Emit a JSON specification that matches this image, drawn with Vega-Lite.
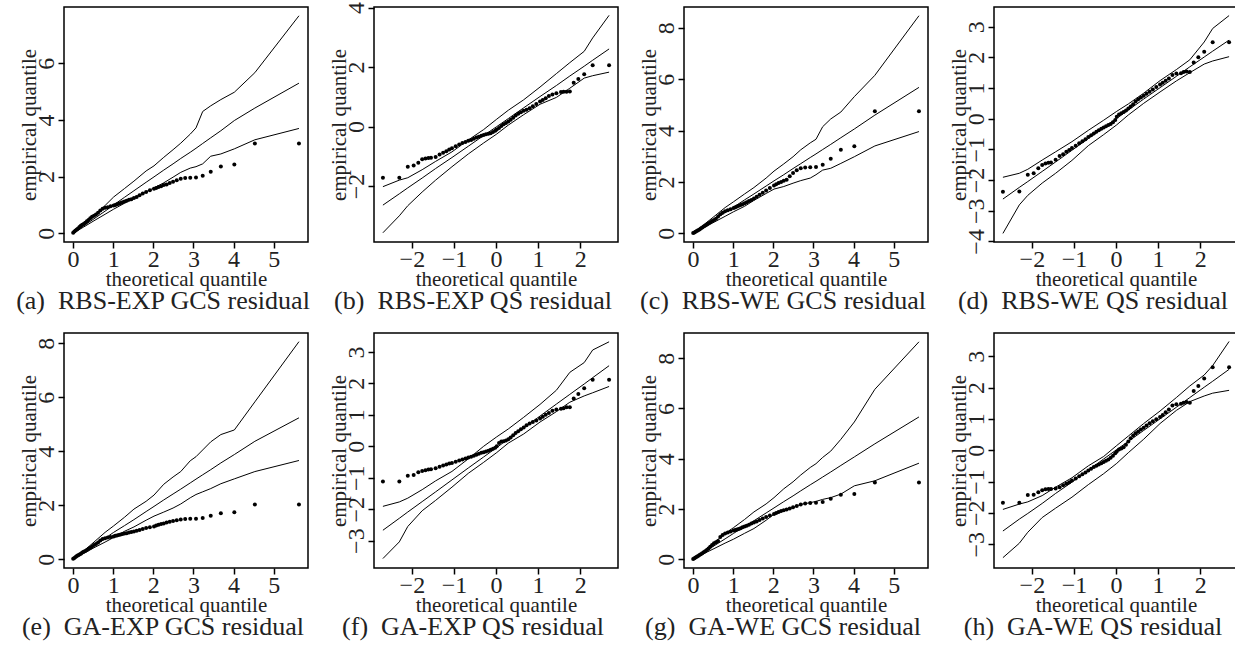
{
"$schema":"https://vega.github.io/schema/vega-lite/v6.json",
"background":"white",
"padding":{"left":14,"top":0,"right":0,"bottom":0},
"bounds":"flush",
"columns":4,
"spacing":{"row":91,"column":66},
"config":{
"font":"Liberation Serif",
"view":{"stroke":"black","strokeWidth":1.5},
"axis":{"labelFont":"Liberation Serif","titleFont":"Liberation Serif","labelFontSize":24,"titleFontSize":21,"labelColor":"#222","titleColor":"#222","titleFontWeight":"normal","domain":false,"grid":false,"ticks":true,"tickColor":"black","tickSize":6,"tickWidth":1.5,"labelOverlap":false,"labelFlush":false,"labelBound":false,"format":"d"},
"axisX":{"labelPadding":-1,"labelAngle":0,"titleX":122,"titleY":43,"titleBaseline":"alphabetic","titleAlign":"center"},
"axisY":{"labelAngle":-90,"labelAlign":"center","labelBaseline":"bottom","labelPadding":0,"titleX":-29,"titleY":117.5,"titleBaseline":"alphabetic","titleAlign":"center","titleAngle":-90},
"title":{"font":"Liberation Serif","fontSize":26,"fontWeight":"normal","color":"#222","orient":"bottom","offset":-1,"anchor":"middle","frame":"bounds"}
},
"datasets":{
"ep":[
{"x":0.0036,"a":0.02,"c":0.01,"e":0.02,"g":0.01},
{"x":0.033,"a":0.06,"c":0.03,"e":0.05,"g":0.04},
{"x":0.063,"a":0.10,"c":0.06,"e":0.09,"g":0.07},
{"x":0.094,"a":0.13,"c":0.09,"e":0.12,"g":0.10},
{"x":0.126,"a":0.17,"c":0.12,"e":0.15,"g":0.13},
{"x":0.160,"a":0.22,"c":0.15,"e":0.18,"g":0.17},
{"x":0.194,"a":0.26,"c":0.19,"e":0.21,"g":0.20},
{"x":0.229,"a":0.30,"c":0.22,"e":0.25,"g":0.24},
{"x":0.266,"a":0.33,"c":0.26,"e":0.28,"g":0.28},
{"x":0.305,"a":0.37,"c":0.30,"e":0.31,"g":0.32},
{"x":0.345,"a":0.42,"c":0.34,"e":0.35,"g":0.37},
{"x":0.386,"a":0.47,"c":0.39,"e":0.39,"g":0.43},
{"x":0.429,"a":0.53,"c":0.43,"e":0.43,"g":0.50},
{"x":0.474,"a":0.58,"c":0.48,"e":0.48,"g":0.57},
{"x":0.522,"a":0.62,"c":0.52,"e":0.53,"g":0.63},
{"x":0.571,"a":0.66,"c":0.57,"e":0.57,"g":0.67},
{"x":0.624,"a":0.72,"c":0.65,"e":0.62,"g":0.72},
{"x":0.679,"a":0.80,"c":0.74,"e":0.70,"g":0.88},
{"x":0.737,"a":0.86,"c":0.80,"e":0.75,"g":0.96},
{"x":0.799,"a":0.90,"c":0.86,"e":0.78,"g":1.02},
{"x":0.866,"a":0.92,"c":0.90,"e":0.81,"g":1.06},
{"x":0.936,"a":0.95,"c":0.94,"e":0.83,"g":1.10},
{"x":1.012,"a":0.98,"c":0.98,"e":0.85,"g":1.14},
{"x":1.053,"a":1.00,"c":1.01,"e":0.87,"g":1.16},
{"x":1.095,"a":1.02,"c":1.04,"e":0.88,"g":1.18},
{"x":1.139,"a":1.04,"c":1.07,"e":0.90,"g":1.20},
{"x":1.185,"a":1.07,"c":1.10,"e":0.92,"g":1.23},
{"x":1.233,"a":1.09,"c":1.13,"e":0.94,"g":1.27},
{"x":1.284,"a":1.12,"c":1.17,"e":0.96,"g":1.30},
{"x":1.337,"a":1.15,"c":1.21,"e":0.97,"g":1.33},
{"x":1.394,"a":1.18,"c":1.26,"e":0.99,"g":1.37},
{"x":1.453,"a":1.20,"c":1.30,"e":1.01,"g":1.42},
{"x":1.517,"a":1.24,"c":1.35,"e":1.03,"g":1.46},
{"x":1.585,"a":1.28,"c":1.42,"e":1.06,"g":1.50},
{"x":1.657,"a":1.34,"c":1.50,"e":1.09,"g":1.56},
{"x":1.736,"a":1.40,"c":1.58,"e":1.12,"g":1.62},
{"x":1.821,"a":1.46,"c":1.67,"e":1.16,"g":1.68},
{"x":1.914,"a":1.52,"c":1.76,"e":1.19,"g":1.74},
{"x":2.017,"a":1.57,"c":1.86,"e":1.22,"g":1.80},
{"x":2.072,"a":1.60,"c":1.91,"e":1.25,"g":1.84},
{"x":2.131,"a":1.63,"c":1.96,"e":1.28,"g":1.88},
{"x":2.194,"a":1.66,"c":2.00,"e":1.31,"g":1.92},
{"x":2.260,"a":1.70,"c":2.04,"e":1.33,"g":1.95},
{"x":2.332,"a":1.72,"c":2.08,"e":1.36,"g":1.98},
{"x":2.409,"a":1.77,"c":2.22,"e":1.39,"g":2.02},
{"x":2.492,"a":1.82,"c":2.35,"e":1.42,"g":2.07},
{"x":2.583,"a":1.87,"c":2.45,"e":1.45,"g":2.12},
{"x":2.683,"a":1.92,"c":2.53,"e":1.48,"g":2.18},
{"x":2.794,"a":1.95,"c":2.56,"e":1.49,"g":2.22},
{"x":2.920,"a":1.96,"c":2.57,"e":1.50,"g":2.24},
{"x":3.063,"a":1.97,"c":2.58,"e":1.50,"g":2.25},
{"x":3.230,"a":2.03,"c":2.67,"e":1.53,"g":2.28},
{"x":3.430,"a":2.17,"c":2.90,"e":1.61,"g":2.41},
{"x":3.682,"a":2.36,"c":3.25,"e":1.71,"g":2.56},
{"x":4.018,"a":2.43,"c":3.39,"e":1.74,"g":2.59},
{"x":4.529,"a":3.17,"c":4.75,"e":2.03,"g":3.05},
{"x":5.628,"a":3.17,"c":4.75,"e":2.03,"g":3.05}
],
"el":[
{"x":0.0036,"a_lo":0,"a_md":0,"a_hi":0.01,"c_lo":0,"c_md":0,"c_hi":0.01,"e_lo":0,"e_md":0,"e_hi":0.01,"g_lo":0,"g_md":0,"g_hi":0.01},
{"x":0.266,"a_lo":0.22,"a_md":0.26,"a_hi":0.31,"c_lo":0.21,"c_md":0.27,"c_hi":0.33,"e_lo":0.22,"e_md":0.26,"e_hi":0.31,"g_lo":0.22,"g_md":0.27,"g_hi":0.33},
{"x":0.522,"a_lo":0.44,"a_md":0.51,"a_hi":0.62,"c_lo":0.43,"c_md":0.53,"c_hi":0.65,"e_lo":0.43,"e_md":0.51,"e_hi":0.64,"g_lo":0.42,"g_md":0.53,"g_hi":0.66},
{"x":0.799,"a_lo":0.67,"a_md":0.78,"a_hi":0.98,"c_lo":0.66,"c_md":0.81,"c_hi":1.0,"e_lo":0.64,"e_md":0.78,"e_hi":1.0,"g_lo":0.64,"g_md":0.81,"g_hi":1.02},
{"x":1.012,"a_lo":0.85,"a_md":1.0,"a_hi":1.28,"c_lo":0.84,"c_md":1.02,"c_hi":1.23,"e_lo":0.81,"e_md":1.0,"e_hi":1.24,"g_lo":0.8,"g_md":1.03,"g_hi":1.26},
{"x":1.284,"a_lo":1.06,"a_md":1.27,"a_hi":1.58,"c_lo":1.05,"c_md":1.3,"c_hi":1.53,"e_lo":1.04,"e_md":1.25,"e_hi":1.56,"g_lo":1.03,"g_md":1.3,"g_hi":1.58},
{"x":1.517,"a_lo":1.25,"a_md":1.5,"a_hi":1.84,"c_lo":1.28,"c_md":1.53,"c_hi":1.78,"e_lo":1.2,"e_md":1.47,"e_hi":1.86,"g_lo":1.22,"g_md":1.53,"g_hi":1.88},
{"x":1.821,"a_lo":1.46,"a_md":1.8,"a_hi":2.2,"c_lo":1.55,"c_md":1.84,"c_hi":2.15,"e_lo":1.45,"e_md":1.77,"e_hi":2.15,"g_lo":1.55,"g_md":1.84,"g_hi":2.2},
{"x":2.017,"a_lo":1.6,"a_md":1.99,"a_hi":2.38,"c_lo":1.72,"c_md":2.04,"c_hi":2.42,"e_lo":1.6,"e_md":1.96,"e_hi":2.38,"g_lo":1.79,"g_md":2.04,"g_hi":2.45},
{"x":2.26,"a_lo":1.78,"a_md":2.23,"a_hi":2.68,"c_lo":1.82,"c_md":2.28,"c_hi":2.7,"e_lo":1.75,"e_md":2.2,"e_hi":2.78,"g_lo":1.92,"g_md":2.29,"g_hi":2.8},
{"x":2.492,"a_lo":1.98,"a_md":2.45,"a_hi":2.95,"c_lo":1.95,"c_md":2.52,"c_hi":2.98,"e_lo":1.9,"e_md":2.42,"e_hi":3.05,"g_lo":2.06,"g_md":2.52,"g_hi":3.08},
{"x":2.683,"a_lo":2.15,"a_md":2.64,"a_hi":3.18,"c_lo":2.05,"c_md":2.71,"c_hi":3.25,"e_lo":2.05,"e_md":2.6,"e_hi":3.25,"g_lo":2.18,"g_md":2.72,"g_hi":3.35},
{"x":2.92,"a_lo":2.3,"a_md":2.86,"a_hi":3.5,"c_lo":2.15,"c_md":2.95,"c_hi":3.52,"e_lo":2.28,"e_md":2.83,"e_hi":3.65,"g_lo":2.25,"g_md":2.96,"g_hi":3.65},
{"x":3.063,"a_lo":2.35,"a_md":3.0,"a_hi":3.72,"c_lo":2.28,"c_md":3.09,"c_hi":3.66,"e_lo":2.4,"e_md":2.97,"e_hi":3.8,"g_lo":2.3,"g_md":3.1,"g_hi":3.8},
{"x":3.23,"a_lo":2.45,"a_md":3.17,"a_hi":4.3,"c_lo":2.46,"c_md":3.26,"c_hi":4.15,"e_lo":2.5,"e_md":3.13,"e_hi":4.05,"g_lo":2.38,"g_md":3.27,"g_hi":4.05},
{"x":3.43,"a_lo":2.72,"a_md":3.37,"a_hi":4.5,"c_lo":2.53,"c_md":3.46,"c_hi":4.45,"e_lo":2.62,"e_md":3.32,"e_hi":4.35,"g_lo":2.45,"g_md":3.47,"g_hi":4.3},
{"x":3.682,"a_lo":2.8,"a_md":3.62,"a_hi":4.72,"c_lo":2.72,"c_md":3.72,"c_hi":4.72,"e_lo":2.8,"e_md":3.57,"e_hi":4.62,"g_lo":2.59,"g_md":3.73,"g_hi":4.77},
{"x":4.018,"a_lo":2.98,"a_md":3.98,"a_hi":4.98,"c_lo":2.98,"c_md":4.06,"c_hi":5.32,"e_lo":2.98,"e_md":3.88,"e_hi":4.79,"g_lo":2.92,"g_md":4.07,"g_hi":5.46},
{"x":4.529,"a_lo":3.3,"a_md":4.42,"a_hi":5.67,"c_lo":3.4,"c_md":4.6,"c_hi":6.15,"e_lo":3.25,"e_md":4.37,"e_hi":5.83,"g_lo":3.12,"g_md":4.59,"g_hi":6.76},
{"x":5.628,"a_lo":3.7,"a_md":5.3,"a_hi":7.68,"c_lo":3.96,"c_md":5.68,"c_hi":8.47,"e_lo":3.66,"e_md":5.24,"e_hi":8.06,"g_lo":3.82,"g_md":5.66,"g_hi":8.65}
],
"np":[
{"x":-2.688,"b":-1.72,"d":-2.38,"f":-1.12,"h":-1.68},
{"x":-2.298,"b":-1.72,"d":-2.37,"f":-1.12,"h":-1.68},
{"x":-2.097,"b":-1.35,"d":-1.83,"f":-0.94,"h":-1.43},
{"x":-1.957,"b":-1.31,"d":-1.78,"f":-0.91,"h":-1.42},
{"x":-1.847,"b":-1.22,"d":-1.62,"f":-0.83,"h":-1.34},
{"x":-1.755,"b":-1.10,"d":-1.51,"f":-0.79,"h":-1.28},
{"x":-1.677,"b":-1.07,"d":-1.46,"f":-0.76,"h":-1.25},
{"x":-1.607,"b":-1.06,"d":-1.44,"f":-0.74,"h":-1.24},
{"x":-1.545,"b":-1.05,"d":-1.43,"f":-0.73,"h":-1.24},
{"x":-1.435,"b":-1.02,"d":-1.34,"f":-0.70,"h":-1.22},
{"x":-1.341,"b":-0.94,"d":-1.22,"f":-0.65,"h":-1.18},
{"x":-1.257,"b":-0.88,"d":-1.16,"f":-0.61,"h":-1.12},
{"x":-1.181,"b":-0.83,"d":-1.08,"f":-0.58,"h":-1.07},
{"x":-1.112,"b":-0.77,"d":-1.02,"f":-0.55,"h":-1.02},
{"x":-1.047,"b":-0.73,"d":-0.96,"f":-0.53,"h":-0.97},
{"x":-0.958,"b":-0.66,"d":-0.88,"f":-0.49,"h":-0.90},
{"x":-0.875,"b":-0.60,"d":-0.80,"f":-0.45,"h":-0.83},
{"x":-0.799,"b":-0.55,"d":-0.74,"f":-0.42,"h":-0.77},
{"x":-0.726,"b":-0.52,"d":-0.67,"f":-0.39,"h":-0.71},
{"x":-0.658,"b":-0.48,"d":-0.60,"f":-0.36,"h":-0.65},
{"x":-0.592,"b":-0.45,"d":-0.54,"f":-0.33,"h":-0.59},
{"x":-0.528,"b":-0.41,"d":-0.48,"f":-0.30,"h":-0.54},
{"x":-0.467,"b":-0.37,"d":-0.43,"f":-0.27,"h":-0.50},
{"x":-0.408,"b":-0.34,"d":-0.38,"f":-0.24,"h":-0.46},
{"x":-0.349,"b":-0.31,"d":-0.33,"f":-0.21,"h":-0.42},
{"x":-0.293,"b":-0.28,"d":-0.29,"f":-0.19,"h":-0.38},
{"x":-0.237,"b":-0.26,"d":-0.25,"f":-0.17,"h":-0.34},
{"x":-0.181,"b":-0.24,"d":-0.21,"f":-0.14,"h":-0.30},
{"x":-0.127,"b":-0.22,"d":-0.17,"f":-0.11,"h":-0.24},
{"x":-0.072,"b":-0.18,"d":-0.12,"f":-0.08,"h":-0.18},
{"x":-0.018,"b":-0.14,"d":-0.04,"f":-0.05,"h":-0.10},
{"x":0.018,"b":-0.10,"d":0.06,"f":0.00,"h":-0.04},
{"x":0.072,"b":-0.05,"d":0.14,"f":0.10,"h":0.02},
{"x":0.127,"b":0.02,"d":0.18,"f":0.15,"h":0.05},
{"x":0.181,"b":0.08,"d":0.22,"f":0.16,"h":0.09},
{"x":0.237,"b":0.12,"d":0.27,"f":0.18,"h":0.17},
{"x":0.293,"b":0.17,"d":0.33,"f":0.22,"h":0.28},
{"x":0.349,"b":0.23,"d":0.40,"f":0.28,"h":0.38},
{"x":0.408,"b":0.30,"d":0.47,"f":0.35,"h":0.47},
{"x":0.467,"b":0.37,"d":0.56,"f":0.42,"h":0.54},
{"x":0.528,"b":0.43,"d":0.63,"f":0.48,"h":0.60},
{"x":0.592,"b":0.48,"d":0.69,"f":0.54,"h":0.66},
{"x":0.658,"b":0.53,"d":0.75,"f":0.60,"h":0.72},
{"x":0.726,"b":0.57,"d":0.81,"f":0.67,"h":0.79},
{"x":0.799,"b":0.62,"d":0.88,"f":0.72,"h":0.86},
{"x":0.875,"b":0.68,"d":0.95,"f":0.77,"h":0.92},
{"x":0.958,"b":0.76,"d":1.03,"f":0.82,"h":0.99},
{"x":1.047,"b":0.84,"d":1.11,"f":0.88,"h":1.06},
{"x":1.112,"b":0.89,"d":1.17,"f":0.94,"h":1.12},
{"x":1.181,"b":0.95,"d":1.24,"f":1.00,"h":1.21},
{"x":1.257,"b":1.03,"d":1.31,"f":1.06,"h":1.30},
{"x":1.341,"b":1.08,"d":1.42,"f":1.13,"h":1.43},
{"x":1.435,"b":1.12,"d":1.47,"f":1.17,"h":1.47},
{"x":1.545,"b":1.16,"d":1.48,"f":1.19,"h":1.48},
{"x":1.607,"b":1.17,"d":1.52,"f":1.21,"h":1.51},
{"x":1.677,"b":1.17,"d":1.54,"f":1.24,"h":1.54},
{"x":1.755,"b":1.18,"d":1.52,"f":1.24,"h":1.51},
{"x":1.847,"b":1.47,"d":1.83,"f":1.52,"h":1.89},
{"x":1.957,"b":1.60,"d":2.00,"f":1.66,"h":2.05},
{"x":2.097,"b":1.76,"d":2.18,"f":1.84,"h":2.29},
{"x":2.298,"b":2.06,"d":2.49,"f":2.11,"h":2.65},
{"x":2.688,"b":2.06,"d":2.49,"f":2.11,"h":2.65}
],
"nl":[
{"x":-2.688,"b_lo":-3.57,"b_md":-2.64,"b_hi":-2.02,"d_lo":-3.74,"d_md":-2.62,"d_hi":-1.91,"f_lo":-3.57,"f_md":-2.67,"f_hi":-1.91,"h_lo":-3.43,"h_md":-2.58,"h_hi":-1.89},
{"x":-2.298,"b_lo":-3.0,"b_md":-2.26,"b_hi":-1.8,"d_lo":-2.81,"d_md":-2.24,"d_hi":-1.78,"f_lo":-3.04,"f_md":-2.29,"f_hi":-1.77,"h_lo":-2.97,"h_md":-2.2,"h_hi":-1.72},
{"x":-2.097,"b_lo":-2.66,"b_md":-2.06,"b_hi":-1.72,"d_lo":-2.5,"d_md":-2.05,"d_hi":-1.65,"f_lo":-2.55,"f_md":-2.09,"f_hi":-1.65,"h_lo":-2.62,"h_md":-2.02,"h_hi":-1.65},
{"x":-1.755,"b_lo":-2.2,"b_md":-1.73,"b_hi":-1.45,"d_lo":-2.1,"d_md":-1.72,"d_hi":-1.35,"f_lo":-2.05,"f_md":-1.76,"f_hi":-1.38,"h_lo":-2.15,"h_md":-1.7,"h_hi":-1.45},
{"x":-1.435,"b_lo":-1.8,"b_md":-1.41,"b_hi":-1.17,"d_lo":-1.78,"d_md":-1.41,"d_hi":-1.08,"f_lo":-1.72,"f_md":-1.45,"f_hi":-1.1,"h_lo":-1.85,"h_md":-1.38,"h_hi":-1.18},
{"x":-1.047,"b_lo":-1.35,"b_md":-1.04,"b_hi":-0.85,"d_lo":-1.36,"d_md":-1.03,"d_hi":-0.75,"f_lo":-1.3,"f_md":-1.07,"f_hi":-0.8,"h_lo":-1.5,"h_md":-1.02,"h_hi":-0.88},
{"x":-0.658,"b_lo":-0.92,"b_md":-0.66,"b_hi":-0.45,"d_lo":-0.88,"d_md":-0.65,"d_hi":-0.38,"f_lo":-0.86,"f_md":-0.69,"f_hi":-0.4,"h_lo":-1.1,"h_md":-0.64,"h_hi":-0.5},
{"x":-0.293,"b_lo":-0.55,"b_md":-0.3,"b_hi":-0.1,"d_lo":-0.52,"d_md":-0.29,"d_hi":-0.05,"f_lo":-0.51,"f_md":-0.34,"f_hi":0.0,"h_lo":-0.75,"h_md":-0.28,"h_hi":-0.2},
{"x":0.018,"b_lo":-0.25,"b_md":0.0,"b_hi":0.25,"d_lo":-0.2,"d_md":0.01,"d_hi":0.24,"f_lo":-0.2,"f_md":-0.04,"f_hi":0.3,"h_lo":-0.42,"h_md":0.02,"h_hi":0.15},
{"x":0.293,"b_lo":0.05,"b_md":0.27,"b_hi":0.55,"d_lo":0.12,"d_md":0.28,"d_hi":0.48,"f_lo":0.1,"f_md":0.23,"f_hi":0.55,"h_lo":-0.08,"h_md":0.28,"h_hi":0.45},
{"x":0.658,"b_lo":0.4,"b_md":0.63,"b_hi":0.9,"d_lo":0.5,"d_md":0.64,"d_hi":0.83,"f_lo":0.39,"f_md":0.58,"f_hi":0.92,"h_lo":0.35,"h_md":0.63,"h_hi":0.85},
{"x":1.047,"b_lo":0.75,"b_md":1.01,"b_hi":1.33,"d_lo":0.87,"d_md":1.01,"d_hi":1.24,"f_lo":0.77,"f_md":0.96,"f_hi":1.33,"h_lo":0.85,"h_md":1.0,"h_hi":1.25},
{"x":1.435,"b_lo":0.98,"b_md":1.38,"b_hi":1.78,"d_lo":1.23,"d_md":1.38,"d_hi":1.6,"f_lo":1.1,"f_md":1.34,"f_hi":1.78,"h_lo":1.27,"h_md":1.37,"h_hi":1.68},
{"x":1.755,"b_lo":1.29,"b_md":1.7,"b_hi":2.15,"d_lo":1.5,"d_md":1.69,"d_hi":1.92,"f_lo":1.4,"f_md":1.65,"f_hi":2.35,"h_lo":1.55,"h_md":1.68,"h_hi":2.05},
{"x":2.097,"b_lo":1.63,"b_md":2.03,"b_hi":2.53,"d_lo":1.78,"d_md":2.01,"d_hi":2.5,"f_lo":1.6,"f_md":1.98,"f_hi":2.66,"h_lo":1.73,"h_md":2.01,"h_hi":2.4},
{"x":2.298,"b_lo":1.71,"b_md":2.23,"b_hi":2.98,"d_lo":1.88,"d_md":2.2,"d_hi":2.94,"f_lo":1.7,"f_md":2.18,"f_hi":3.06,"h_lo":1.82,"h_md":2.2,"h_hi":2.7},
{"x":2.688,"b_lo":1.83,"b_md":2.61,"b_hi":3.74,"d_lo":2.02,"d_md":2.56,"d_hi":3.36,"f_lo":1.9,"f_md":2.56,"f_hi":3.32,"h_lo":1.91,"h_md":2.58,"h_hi":3.47}
]
},
"concat":[
{"width":244,"height":235,"title":{"text":"(a)\u00a0\u00a0RBS-EXP GCS residual"},
"encoding":{"x":{"field":"x","type":"quantitative","title":"theoretical quantile","scale":{"domain":[-0.225,5.853],"nice":false,"zero":false},"axis":{"values":[0,1,2,3,4,5]}}},
"layer":[
{"data":{"name":"el"},"mark":{"type":"line","color":"black","strokeWidth":1},"encoding":{"y":{"field":"a_hi","type":"quantitative","title":"empirical quantile","scale":{"domain":[-0.31,7.99],"nice":false,"zero":false},"axis":{"values":[0,2,4,6]}}}},
{"data":{"name":"el"},"mark":{"type":"line","color":"black","strokeWidth":1},"encoding":{"y":{"field":"a_md","type":"quantitative","title":"empirical quantile","scale":{"domain":[-0.31,7.99],"nice":false,"zero":false},"axis":{"values":[0,2,4,6]}}}},
{"data":{"name":"el"},"mark":{"type":"line","color":"black","strokeWidth":1},"encoding":{"y":{"field":"a_lo","type":"quantitative","title":"empirical quantile","scale":{"domain":[-0.31,7.99],"nice":false,"zero":false},"axis":{"values":[0,2,4,6]}}}},
{"data":{"name":"ep"},"mark":{"type":"circle","color":"black","size":16,"opacity":1},"encoding":{"y":{"field":"a","type":"quantitative","title":"empirical quantile","scale":{"domain":[-0.31,7.99],"nice":false,"zero":false},"axis":{"values":[0,2,4,6]}}}}
]},
{"width":244,"height":235,"title":{"text":"(b)\u00a0\u00a0RBS-EXP QS residual"},
"encoding":{"x":{"field":"x","type":"quantitative","title":"theoretical quantile","scale":{"domain":[-2.9,2.9],"nice":false,"zero":false},"axis":{"values":[-2,-1,0,1,2]}}},
"layer":[
{"data":{"name":"nl"},"mark":{"type":"line","color":"black","strokeWidth":1},"encoding":{"y":{"field":"b_hi","type":"quantitative","title":"empirical quantile","scale":{"domain":[-3.88,4.02],"nice":false,"zero":false},"axis":{"values":[-2,0,2,4]}}}},
{"data":{"name":"nl"},"mark":{"type":"line","color":"black","strokeWidth":1},"encoding":{"y":{"field":"b_md","type":"quantitative","title":"empirical quantile","scale":{"domain":[-3.88,4.02],"nice":false,"zero":false},"axis":{"values":[-2,0,2,4]}}}},
{"data":{"name":"nl"},"mark":{"type":"line","color":"black","strokeWidth":1},"encoding":{"y":{"field":"b_lo","type":"quantitative","title":"empirical quantile","scale":{"domain":[-3.88,4.02],"nice":false,"zero":false},"axis":{"values":[-2,0,2,4]}}}},
{"data":{"name":"np"},"mark":{"type":"circle","color":"black","size":16,"opacity":1},"encoding":{"y":{"field":"b","type":"quantitative","title":"empirical quantile","scale":{"domain":[-3.88,4.02],"nice":false,"zero":false},"axis":{"values":[-2,0,2,4]}}}}
]},
{"width":244,"height":235,"title":{"text":"(c)\u00a0\u00a0RBS-WE GCS residual"},
"encoding":{"x":{"field":"x","type":"quantitative","title":"theoretical quantile","scale":{"domain":[-0.225,5.853],"nice":false,"zero":false},"axis":{"values":[0,1,2,3,4,5]}}},
"layer":[
{"data":{"name":"el"},"mark":{"type":"line","color":"black","strokeWidth":1},"encoding":{"y":{"field":"c_hi","type":"quantitative","title":"empirical quantile","scale":{"domain":[-0.34,8.81],"nice":false,"zero":false},"axis":{"values":[0,2,4,6,8]}}}},
{"data":{"name":"el"},"mark":{"type":"line","color":"black","strokeWidth":1},"encoding":{"y":{"field":"c_md","type":"quantitative","title":"empirical quantile","scale":{"domain":[-0.34,8.81],"nice":false,"zero":false},"axis":{"values":[0,2,4,6,8]}}}},
{"data":{"name":"el"},"mark":{"type":"line","color":"black","strokeWidth":1},"encoding":{"y":{"field":"c_lo","type":"quantitative","title":"empirical quantile","scale":{"domain":[-0.34,8.81],"nice":false,"zero":false},"axis":{"values":[0,2,4,6,8]}}}},
{"data":{"name":"ep"},"mark":{"type":"circle","color":"black","size":16,"opacity":1},"encoding":{"y":{"field":"c","type":"quantitative","title":"empirical quantile","scale":{"domain":[-0.34,8.81],"nice":false,"zero":false},"axis":{"values":[0,2,4,6,8]}}}}
]},
{"width":244,"height":235,"title":{"text":"(d)\u00a0\u00a0RBS-WE QS residual"},
"encoding":{"x":{"field":"x","type":"quantitative","title":"theoretical quantile","scale":{"domain":[-2.9,2.9],"nice":false,"zero":false},"axis":{"values":[-2,-1,0,1,2]}}},
"layer":[
{"data":{"name":"nl"},"mark":{"type":"line","color":"black","strokeWidth":1},"encoding":{"y":{"field":"d_hi","type":"quantitative","title":"empirical quantile","scale":{"domain":[-4.02,3.64],"nice":false,"zero":false},"axis":{"values":[-4,-3,-2,-1,0,1,2,3]}}}},
{"data":{"name":"nl"},"mark":{"type":"line","color":"black","strokeWidth":1},"encoding":{"y":{"field":"d_md","type":"quantitative","title":"empirical quantile","scale":{"domain":[-4.02,3.64],"nice":false,"zero":false},"axis":{"values":[-4,-3,-2,-1,0,1,2,3]}}}},
{"data":{"name":"nl"},"mark":{"type":"line","color":"black","strokeWidth":1},"encoding":{"y":{"field":"d_lo","type":"quantitative","title":"empirical quantile","scale":{"domain":[-4.02,3.64],"nice":false,"zero":false},"axis":{"values":[-4,-3,-2,-1,0,1,2,3]}}}},
{"data":{"name":"np"},"mark":{"type":"circle","color":"black","size":16,"opacity":1},"encoding":{"y":{"field":"d","type":"quantitative","title":"empirical quantile","scale":{"domain":[-4.02,3.64],"nice":false,"zero":false},"axis":{"values":[-4,-3,-2,-1,0,1,2,3]}}}}
]},
{"width":244,"height":235,"title":{"text":"(e)\u00a0\u00a0GA-EXP GCS residual"},
"encoding":{"x":{"field":"x","type":"quantitative","title":"theoretical quantile","scale":{"domain":[-0.225,5.853],"nice":false,"zero":false},"axis":{"values":[0,1,2,3,4,5]}}},
"layer":[
{"data":{"name":"el"},"mark":{"type":"line","color":"black","strokeWidth":1},"encoding":{"y":{"field":"e_hi","type":"quantitative","title":"empirical quantile","scale":{"domain":[-0.32,8.38],"nice":false,"zero":false},"axis":{"values":[0,2,4,6,8]}}}},
{"data":{"name":"el"},"mark":{"type":"line","color":"black","strokeWidth":1},"encoding":{"y":{"field":"e_md","type":"quantitative","title":"empirical quantile","scale":{"domain":[-0.32,8.38],"nice":false,"zero":false},"axis":{"values":[0,2,4,6,8]}}}},
{"data":{"name":"el"},"mark":{"type":"line","color":"black","strokeWidth":1},"encoding":{"y":{"field":"e_lo","type":"quantitative","title":"empirical quantile","scale":{"domain":[-0.32,8.38],"nice":false,"zero":false},"axis":{"values":[0,2,4,6,8]}}}},
{"data":{"name":"ep"},"mark":{"type":"circle","color":"black","size":16,"opacity":1},"encoding":{"y":{"field":"e","type":"quantitative","title":"empirical quantile","scale":{"domain":[-0.32,8.38],"nice":false,"zero":false},"axis":{"values":[0,2,4,6,8]}}}}
]},
{"width":244,"height":235,"title":{"text":"(f)\u00a0\u00a0GA-EXP QS residual"},
"encoding":{"x":{"field":"x","type":"quantitative","title":"theoretical quantile","scale":{"domain":[-2.9,2.9],"nice":false,"zero":false},"axis":{"values":[-2,-1,0,1,2]}}},
"layer":[
{"data":{"name":"nl"},"mark":{"type":"line","color":"black","strokeWidth":1},"encoding":{"y":{"field":"f_hi","type":"quantitative","title":"empirical quantile","scale":{"domain":[-3.87,3.6],"nice":false,"zero":false},"axis":{"values":[-3,-2,-1,0,1,2,3]}}}},
{"data":{"name":"nl"},"mark":{"type":"line","color":"black","strokeWidth":1},"encoding":{"y":{"field":"f_md","type":"quantitative","title":"empirical quantile","scale":{"domain":[-3.87,3.6],"nice":false,"zero":false},"axis":{"values":[-3,-2,-1,0,1,2,3]}}}},
{"data":{"name":"nl"},"mark":{"type":"line","color":"black","strokeWidth":1},"encoding":{"y":{"field":"f_lo","type":"quantitative","title":"empirical quantile","scale":{"domain":[-3.87,3.6],"nice":false,"zero":false},"axis":{"values":[-3,-2,-1,0,1,2,3]}}}},
{"data":{"name":"np"},"mark":{"type":"circle","color":"black","size":16,"opacity":1},"encoding":{"y":{"field":"f","type":"quantitative","title":"empirical quantile","scale":{"domain":[-3.87,3.6],"nice":false,"zero":false},"axis":{"values":[-3,-2,-1,0,1,2,3]}}}}
]},
{"width":244,"height":235,"title":{"text":"(g)\u00a0\u00a0GA-WE GCS residual"},
"encoding":{"x":{"field":"x","type":"quantitative","title":"theoretical quantile","scale":{"domain":[-0.225,5.853],"nice":false,"zero":false},"axis":{"values":[0,1,2,3,4,5]}}},
"layer":[
{"data":{"name":"el"},"mark":{"type":"line","color":"black","strokeWidth":1},"encoding":{"y":{"field":"g_hi","type":"quantitative","title":"empirical quantile","scale":{"domain":[-0.35,9.0],"nice":false,"zero":false},"axis":{"values":[0,2,4,6,8]}}}},
{"data":{"name":"el"},"mark":{"type":"line","color":"black","strokeWidth":1},"encoding":{"y":{"field":"g_md","type":"quantitative","title":"empirical quantile","scale":{"domain":[-0.35,9.0],"nice":false,"zero":false},"axis":{"values":[0,2,4,6,8]}}}},
{"data":{"name":"el"},"mark":{"type":"line","color":"black","strokeWidth":1},"encoding":{"y":{"field":"g_lo","type":"quantitative","title":"empirical quantile","scale":{"domain":[-0.35,9.0],"nice":false,"zero":false},"axis":{"values":[0,2,4,6,8]}}}},
{"data":{"name":"ep"},"mark":{"type":"circle","color":"black","size":16,"opacity":1},"encoding":{"y":{"field":"g","type":"quantitative","title":"empirical quantile","scale":{"domain":[-0.35,9.0],"nice":false,"zero":false},"axis":{"values":[0,2,4,6,8]}}}}
]},
{"width":244,"height":235,"title":{"text":"(h)\u00a0\u00a0GA-WE QS residual"},
"encoding":{"x":{"field":"x","type":"quantitative","title":"theoretical quantile","scale":{"domain":[-2.9,2.9],"nice":false,"zero":false},"axis":{"values":[-2,-1,0,1,2]}}},
"layer":[
{"data":{"name":"nl"},"mark":{"type":"line","color":"black","strokeWidth":1},"encoding":{"y":{"field":"h_hi","type":"quantitative","title":"empirical quantile","scale":{"domain":[-3.76,3.74],"nice":false,"zero":false},"axis":{"values":[-3,-2,-1,0,1,2,3]}}}},
{"data":{"name":"nl"},"mark":{"type":"line","color":"black","strokeWidth":1},"encoding":{"y":{"field":"h_md","type":"quantitative","title":"empirical quantile","scale":{"domain":[-3.76,3.74],"nice":false,"zero":false},"axis":{"values":[-3,-2,-1,0,1,2,3]}}}},
{"data":{"name":"nl"},"mark":{"type":"line","color":"black","strokeWidth":1},"encoding":{"y":{"field":"h_lo","type":"quantitative","title":"empirical quantile","scale":{"domain":[-3.76,3.74],"nice":false,"zero":false},"axis":{"values":[-3,-2,-1,0,1,2,3]}}}},
{"data":{"name":"np"},"mark":{"type":"circle","color":"black","size":16,"opacity":1},"encoding":{"y":{"field":"h","type":"quantitative","title":"empirical quantile","scale":{"domain":[-3.76,3.74],"nice":false,"zero":false},"axis":{"values":[-3,-2,-1,0,1,2,3]}}}}
]}
]
}
